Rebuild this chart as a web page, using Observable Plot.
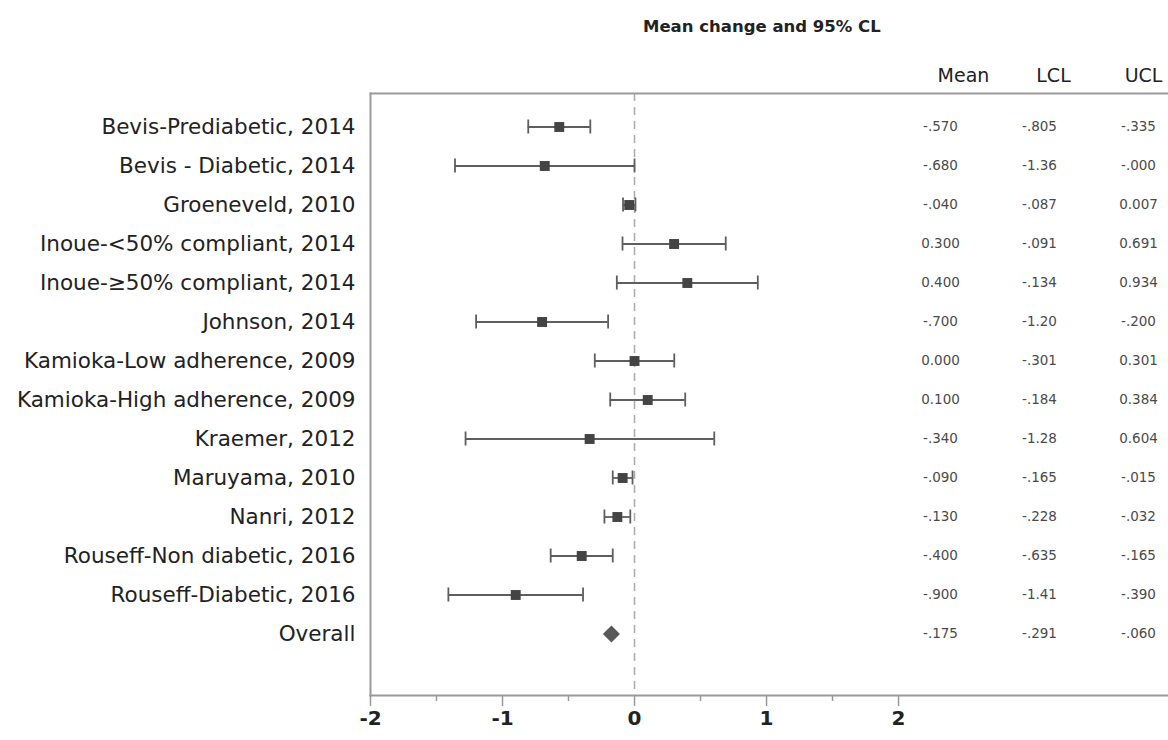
<!DOCTYPE html>
<html>
<head>
<meta charset="utf-8">
<script src="https://cdn.jsdelivr.net/npm/d3@7"></script>
<script src="https://cdn.jsdelivr.net/npm/@observablehq/plot@0.6"></script>
<style>
  body { margin: 0; background: #fff; overflow: hidden; }
  #wrap { position: relative; width: 1168px; height: 740px; background: #fff; }
  #title { position: absolute; top: 0; left: 0; width: 1168px; height: 50px;
           box-sizing: border-box; padding-left: 643px; line-height: 54px;
           font-family: "DejaVu Sans", sans-serif; font-weight: bold; font-size: 16.5px; color: #222; }
  .layer { position: absolute; top: 50px; left: 0; }
  .layer svg { background: transparent !important; }
</style>
</head>
<body>
<div id="wrap">
  <div id="title">Mean change and 95% CL</div>
  <div id="main" class="layer"></div>
  <div id="table" class="layer"></div>
  <div id="heads" class="layer"></div>
</div>
<script>
// ---- data ----
const studies = [
  "Bevis-Prediabetic, 2014",
  "Bevis - Diabetic, 2014",
  "Groeneveld, 2010",
  "Inoue-<50% compliant, 2014",
  "Inoue-\u226550% compliant, 2014",
  "Johnson, 2014",
  "Kamioka-Low adherence, 2009",
  "Kamioka-High adherence, 2009",
  "Kraemer, 2012",
  "Maruyama, 2010",
  "Nanri, 2012",
  "Rouseff-Non diabetic, 2016",
  "Rouseff-Diabetic, 2016",
  "Overall"
];
const means = [-0.570, -0.680, -0.040, 0.300, 0.400, -0.700, 0.000, 0.100, -0.340, -0.090, -0.130, -0.400, -0.900, -0.175];
const lcls  = [-0.805, -1.36, -0.087, -0.091, -0.134, -1.20, -0.301, -0.184, -1.28, -0.165, -0.228, -0.635, -1.41, -0.291];
const ucls  = [-0.335, -0, 0.007, 0.691, 0.934, -0.200, 0.301, 0.384, 0.604, -0.015, -0.032, -0.165, -0.390, -0.060];
const columns = ["Mean", "LCL", "UCL"];
const majorTicks = [-2, -1, 0, 1, 2];
const minorTicks = [-1.5, -0.5, 0.5, 1.5];

// ---- derived tables ----
const rows = studies.map((s, i) => ({study: s, mean: means[i], lcl: lcls[i], ucl: ucls[i]}));
const studyRows = rows.filter(d => d.study !== "Overall");
const overallRows = rows.filter(d => d.study === "Overall");
const cells = rows.flatMap(d => [
  {study: d.study, col: "Mean", value: d.mean},
  {study: d.study, col: "LCL", value: d.lcl},
  {study: d.study, col: "UCL", value: d.ucl}
]);

// SAS-like number formatting
function fmt(v) {
  if (v < 0 || Object.is(v, -0)) {
    const a = -v;
    return "-" + (a >= 1 ? a.toFixed(2) : a.toFixed(3).slice(1));
  }
  return v.toFixed(3);
}

const W = 1168, H = 690, MT = 43, MB = 45, ML = 370;
const yScale = {type: "band", domain: studies, padding: 0, insetTop: 9, insetBottom: 37};
const font = "DejaVu Sans, sans-serif";

const main = Plot.plot({
  width: W, height: H, marginLeft: ML, marginRight: 0, marginTop: MT, marginBottom: MB,
  style: {fontFamily: font, background: "transparent", overflow: "visible"},
  x: {domain: [-2, 4.045]},
  y: {...yScale},
  marks: [
    Plot.ruleX([0], {stroke: "#aaa", strokeWidth: 1.5, strokeDasharray: "8,6"}),
    Plot.frame({anchor: "top", stroke: "#9a9a9a", strokeWidth: 2}),
    Plot.frame({anchor: "left", stroke: "#9a9a9a", strokeWidth: 2}),
    Plot.frame({anchor: "bottom", stroke: "#9a9a9a", strokeWidth: 2}),
    Plot.axisY({tickSize: 0, tickPadding: 15, fontSize: 21.5, fill: "#222", label: null}),
    Plot.axisX({ticks: majorTicks, tickSize: 11, tickPadding: 4, tickFormat: d => String(d),
                fontSize: 20, fontWeight: "bold", stroke: "#999", strokeWidth: 1.5, fill: "#222", label: null}),
    Plot.axisX({ticks: minorTicks, tickSize: 6, tickFormat: () => "", stroke: "#999", strokeWidth: 1.5, label: null}),
    Plot.ruleY(studyRows, {y: "study", x1: "lcl", x2: "ucl", stroke: "#5e5e5e", strokeWidth: 1.8}),
    Plot.tickX(studyRows, {x: "lcl", y: "study", stroke: "#5e5e5e", strokeWidth: 1.8, insetTop: 12.5, insetBottom: 12.5}),
    Plot.tickX(studyRows, {x: "ucl", y: "study", stroke: "#5e5e5e", strokeWidth: 1.8, insetTop: 12.5, insetBottom: 12.5}),
    Plot.dot(studyRows, {x: "mean", y: "study", symbol: "square", r: 5.6, fill: "#444", stroke: null}),
    Plot.dot(overallRows, {x: "mean", y: "study", symbol: "square", r: 6.8, rotate: 45, fill: "#595959", stroke: null})
  ]
});
document.getElementById("main").appendChild(main);

const table = Plot.plot({
  width: W, height: H, marginLeft: ML, marginRight: 0, marginTop: MT, marginBottom: MB,
  style: {fontFamily: font, background: "transparent"},
  x: {type: "point", domain: columns, range: [940, 1138], padding: 0, axis: null},
  y: {...yScale, axis: null},
  marks: [
    Plot.text(cells, {x: "col", y: "study", text: d => fmt(d.value), fontSize: 13.5, fill: "#4a4a4a"})
  ]
});
document.getElementById("table").appendChild(table);

const heads = Plot.plot({
  width: W, height: H, marginLeft: ML, marginRight: 0, marginTop: MT, marginBottom: MB,
  style: {fontFamily: font, background: "transparent"},
  x: {type: "point", domain: columns, range: [962, 1143], padding: 0, axis: null},
  y: {...yScale, axis: null},
  marks: [
    Plot.text(columns, {x: d => d, frameAnchor: "top", dy: -25, fontSize: 19, fill: "#222"})
  ]
});
document.getElementById("heads").appendChild(heads);
</script>
</body>
</html>
